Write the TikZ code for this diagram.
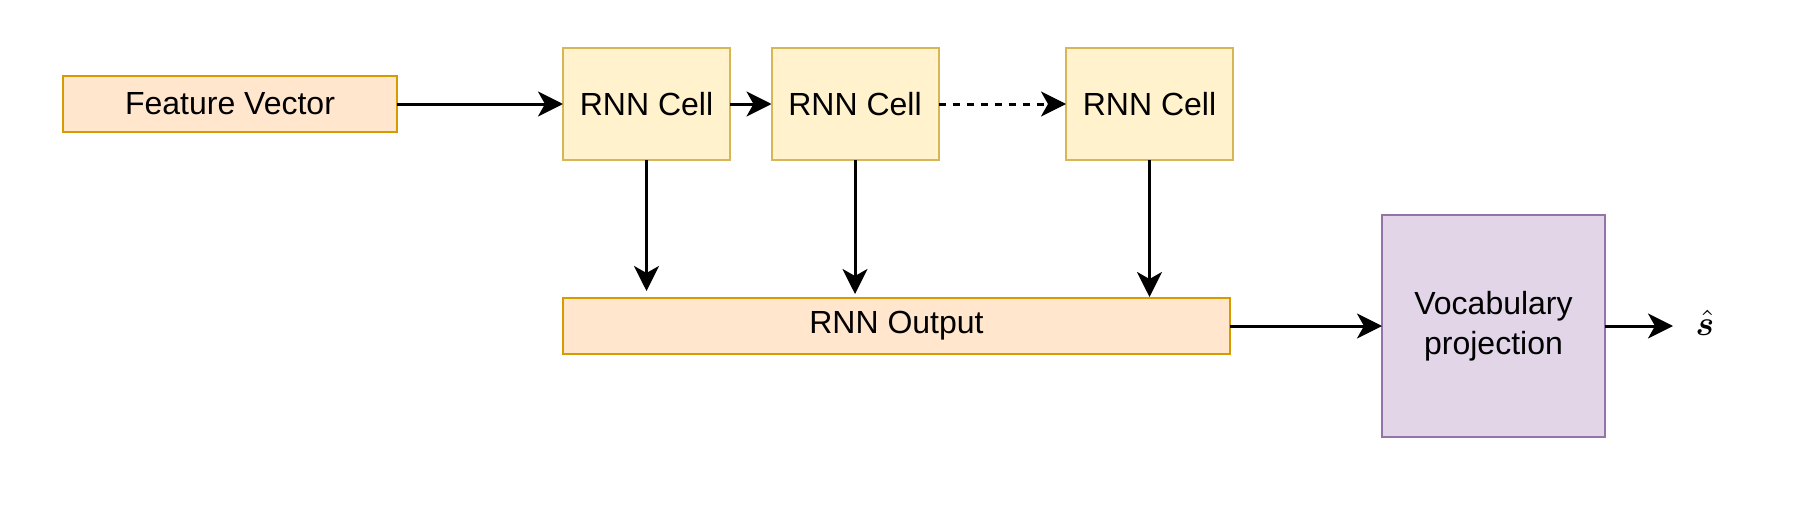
\documentclass[tikz,border=0pt]{standalone}
\usepackage{bm}
\usepackage{fontspec}
\setmainfont{Liberation Sans}
\usetikzlibrary{arrows.meta}
\definecolor{orfill}{HTML}{FFE6CC}
\definecolor{ordraw}{HTML}{D79B00}
\definecolor{yefill}{HTML}{FFF2CC}
\definecolor{yedraw}{HTML}{D6B656}
\definecolor{pufill}{HTML}{E1D5E7}
\definecolor{pudraw}{HTML}{9673A6}
\tikzset{
  box/.style={rectangle, line width=1pt, inner sep=0pt, outer sep=0pt, align=center,
    font=\fontsize{16}{20}\selectfont},
  orbox/.style={box, fill=orfill, draw=ordraw},
  yebox/.style={box, fill=yefill, draw=yedraw},
  pubox/.style={box, fill=pufill, draw=pudraw},
  conn/.style={line width=1.5pt, -{Stealth[length=12.5pt, width=12.5pt, inset=3.5pt]}},
}
\begin{document}
\begin{tikzpicture}[x=0.5pt, y=-0.5pt]
\useasboundingbox (0,0) rectangle (1794,530);
\node[orbox, minimum width=167pt, minimum height=28pt] (fv) at (230,104) {Feature Vector};
\node[yebox, minimum width=83.5pt, minimum height=56pt] (c1) at (646.5,104) {RNN Cell};
\node[yebox, minimum width=83.5pt, minimum height=56pt] (c2) at (855,104) {RNN Cell};
\node[yebox, minimum width=83.5pt, minimum height=56pt] (c3) at (1149.5,104) {RNN Cell};
\node[orbox, minimum width=333.5pt, minimum height=28pt] (out) at (896.5,326) {RNN Output};
\node[pubox, minimum width=111.5pt, minimum height=111pt] (voc) at (1493.5,326) {Vocabulary\\projection};
\node[inner sep=0pt, anchor=base, scale=1.75] (s) at (1705,335) {$\hat{\bm{s}}$};
\coordinate (d1) at (646.5,291);
\coordinate (d2) at (855,294);
\coordinate (d3) at (1149.5,297);
\coordinate (send) at (1673,326);
\draw[conn] (fv) -- (c1);
\draw[conn] (c1) -- (c2);
\draw[conn, dash pattern=on 3.5pt off 3.5pt] (c2) -- (c3);
\draw[conn] (c1.south) -- (d1);
\draw[conn] (c2.south) -- (d2);
\draw[conn] (c3.south) -- (d3);
\draw[conn] (out) -- (voc);
\draw[conn] (voc) -- (send);
\end{tikzpicture}
\end{document}
